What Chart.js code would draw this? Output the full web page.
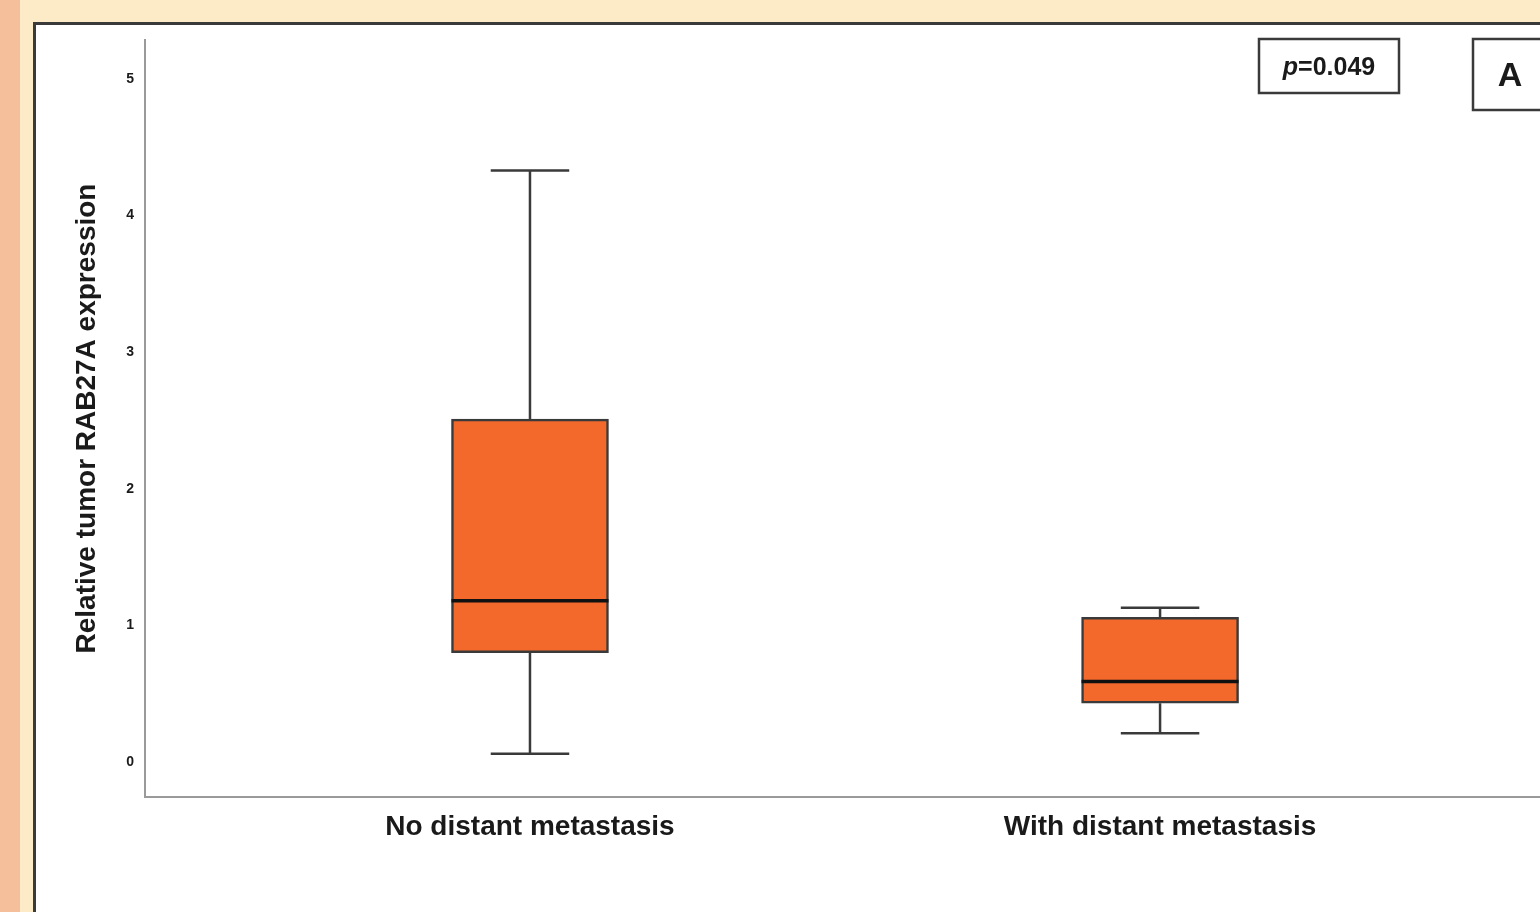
<!DOCTYPE html>
<html>
<head>
<meta charset="utf-8">
<title>RAB27A expression by distant metastasis</title>
<script src="https://cdn.jsdelivr.net/npm/chart.js@4.4.1/dist/chart.umd.min.js"></script>
<style>
  html, body { margin: 0; padding: 0; }
  body { width: 1540px; height: 912px; overflow: hidden; position: relative; background: #fdebc8; }
  #strip { position: absolute; left: 0; top: 0; width: 20px; height: 912px; background: #f4bf9a; }
  #panel { position: absolute; left: 33px; top: 22px; width: 1600px; height: 1000px;
           background: #ffffff; border: 3px solid #3a3a3a; box-sizing: border-box; }
  #wrap { position: absolute; left: 0; top: 0; width: 1540px; height: 912px; }
</style>
</head>
<body>
<div id="strip"></div>
<div id="panel"></div>
<div id="wrap"><canvas id="chart" width="1540" height="912"></canvas></div>
<script>
// Groups and box-plot summary statistics
const groups = ['No distant metastasis', 'With distant metastasis'];
const groupPos = [1, 2];
const whiskerLow = [0.06, 0.21];
const q1 = [0.80, 0.43];
const median = [1.18, 0.59];
const q3 = [2.51, 1.06];
const whiskerHigh = [4.33, 1.13];
const yTicks = [0, 1, 2, 3, 4, 5];
const pLabel = '0.049';
const panelLetter = 'A';

const lineColor = '#3a3a3a';
const boxFill = '#f2692b';
const fontFamily = '"Liberation Sans", Arial, sans-serif';

// Whiskers, caps and medians drawn on top of the floating bars
const boxPlotExtras = {
  id: 'boxPlotExtras',
  afterDatasetsDraw(chart) {
    const { ctx, scales: { x, y } } = chart;
    const meta = chart.getDatasetMeta(0);
    ctx.save();
    groupPos.forEach((pos, i) => {
      const cx = x.getPixelForValue(pos);
      const bar = meta.data[i];
      const half = bar.width / 2;
      const capHalf = half / 2;
      const yLo = y.getPixelForValue(whiskerLow[i]);
      const yQ1 = y.getPixelForValue(q1[i]);
      const yQ3 = y.getPixelForValue(q3[i]);
      const yHi = y.getPixelForValue(whiskerHigh[i]);
      const yMed = y.getPixelForValue(median[i]);
      ctx.strokeStyle = lineColor;
      ctx.lineWidth = 2.5;
      ctx.beginPath();
      ctx.moveTo(cx, yQ3); ctx.lineTo(cx, yHi);
      ctx.moveTo(cx - capHalf, yHi); ctx.lineTo(cx + capHalf, yHi);
      ctx.moveTo(cx, yQ1); ctx.lineTo(cx, yLo);
      ctx.moveTo(cx - capHalf, yLo); ctx.lineTo(cx + capHalf, yLo);
      ctx.stroke();
      ctx.strokeStyle = '#111111';
      ctx.lineWidth = 3.5;
      ctx.beginPath();
      ctx.moveTo(cx - half, yMed); ctx.lineTo(cx + half, yMed);
      ctx.stroke();
    });
    ctx.restore();
  }
};

// p-value box and panel letter in the upper right corner
const cornerLabels = {
  id: 'cornerLabels',
  afterDraw(chart) {
    const { ctx } = chart;
    ctx.save();
    ctx.strokeStyle = lineColor;
    ctx.lineWidth = 2.5;
    ctx.fillStyle = '#ffffff';
    ctx.fillRect(1259, 39, 140, 54);
    ctx.strokeRect(1259, 39, 140, 54);
    ctx.fillRect(1473, 39, 100, 71);
    ctx.strokeRect(1473, 39, 100, 71);
    ctx.fillStyle = '#1a1a1a';
    ctx.textBaseline = 'middle';
    ctx.textAlign = 'left';
    ctx.font = 'italic bold 25px ' + fontFamily;
    const pW = ctx.measureText('p').width;
    ctx.font = 'bold 25px ' + fontFamily;
    const restText = '=' + pLabel;
    const rW = ctx.measureText(restText).width;
    const startX = 1329 - (pW + rW) / 2;
    ctx.font = 'italic bold 25px ' + fontFamily;
    ctx.fillText('p', startX, 68);
    ctx.font = 'bold 25px ' + fontFamily;
    ctx.fillText(restText, startX + pW, 68);
    ctx.textAlign = 'center';
    ctx.font = 'bold 34px ' + fontFamily;
    ctx.fillText(panelLetter, 1510, 77);
    ctx.restore();
  }
};

new Chart(document.getElementById('chart'), {
  type: 'bar',
  data: {
    datasets: [{
      data: groupPos.map((pos, i) => ({ x: pos, y: [q1[i], q3[i]] })),
      backgroundColor: boxFill,
      borderColor: lineColor,
      borderWidth: 2.5,
      borderSkipped: false,
      barThickness: 157
    }]
  },
  plugins: [boxPlotExtras, cornerLabels],
  options: {
    responsive: false,
    animation: false,
    events: [],
    layout: { padding: { left: 0, right: 0, top: 40, bottom: 0 } },
    plugins: { legend: { display: false }, tooltip: { enabled: false }, title: { display: false } },
    scales: {
      x: {
        type: 'linear',
        offset: false,
        min: 0.389,
        max: 2.603,
        afterBuildTicks(scale) { scale.ticks = groupPos.map(v => ({ value: v })); },
        afterFit(scale) { scale.height = 115; },
        grid: { display: false, drawTicks: false, offset: false },
        border: { display: true, color: '#9a9a9a', width: 2 },
        ticks: {
          callback: (v) => groups[groupPos.indexOf(v)] || '',
          color: '#1a1a1a',
          font: { family: fontFamily, size: 28, weight: 'bold' },
          padding: 13,
          maxRotation: 0,
          autoSkip: false
        }
      },
      y: {
        min: -0.256,
        max: 5.285,
        afterBuildTicks(scale) { scale.ticks = yTicks.map(v => ({ value: v })); },
        afterFit(scale) { scale.width = 145; },
        grid: { display: false, drawTicks: false },
        border: { display: true, color: '#9a9a9a', width: 2 },
        ticks: {
          color: '#1a1a1a',
          font: { family: fontFamily, size: 14, weight: 'bold' },
          padding: 11
        },
        title: {
          display: true,
          text: 'Relative tumor RAB27A expression',
          color: '#1a1a1a',
          font: { family: fontFamily, size: 28, weight: 'bold' },
          padding: { top: 70, bottom: 0 }
        }
      }
    }
  }
});
</script>
</body>
</html>
